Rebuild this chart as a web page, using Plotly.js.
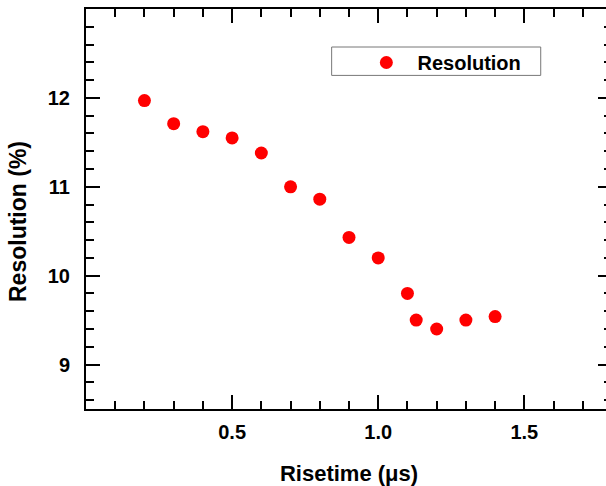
<!DOCTYPE html>
<html>
<head>
<meta charset="utf-8">
<script src="https://cdn.plot.ly/plotly-3.0.1.min.js"></script>
<style>
html, body { margin: 0; padding: 0; overflow: hidden; background: #fff; }
#chart { width: 620px; height: 486px; }
</style>
</head>
<body>
<div id="chart"></div>
<script>
const risetime = [0.2, 0.3, 0.4, 0.5, 0.6, 0.7, 0.8, 0.9, 1.0, 1.1, 1.13, 1.2, 1.3, 1.4];
const resolution = [11.97, 11.71, 11.62, 11.55, 11.38, 11.00, 10.86, 10.43, 10.20, 9.80, 9.50, 9.40, 9.50, 9.54];
const xTickVals = [0.5, 1.0, 1.5];
const xTickText = ['0.5', '1.0', '1.5'];
const yTickVals = [9, 10, 11, 12];
const yTickText = ['9', '10', '11', '12'];

const FONT = 'Liberation Sans, Arial, sans-serif';

const trace = {
  x: risetime,
  y: resolution,
  type: 'scatter',
  mode: 'markers',
  name: '\u00a0\u00a0Resolution',
  marker: { color: '#ff0000', size: 13 }
};

const axisCommon = {
  showline: true,
  linewidth: 2,
  linecolor: '#000',
  mirror: 'ticks',
  ticks: 'inside',
  ticklen: 14,
  tickwidth: 2,
  tickcolor: '#000',
  showgrid: false,
  zeroline: false,
  tickfont: { family: FONT, size: 20, color: '#000', weight: 'bold' }
};

const layout = {
  width: 620,
  height: 486,
  margin: { l: 86, r: 8, t: 9, b: 77 },
  paper_bgcolor: '#fff',
  plot_bgcolor: '#fff',
  showlegend: true,
  xaxis: Object.assign({}, axisCommon, {
    range: [0, 1.8],
    tickmode: 'array',
    tickvals: xTickVals,
    ticktext: xTickText,
    ticklabelstandoff: 4,
    minor: { ticks: 'inside', ticklen: 8, tickwidth: 2, tickcolor: '#000', dtick: 0.1, tick0: 0 },
    title: { text: 'Risetime (μs)', font: { family: FONT, size: 22, color: '#000', weight: 'bold' }, standoff: 25 }
  }),
  yaxis: Object.assign({}, axisCommon, {
    range: [8.5, 13],
    tickmode: 'array',
    tickvals: yTickVals,
    ticktext: yTickText,
    ticklabelstandoff: 10,
    minor: { ticks: 'inside', ticklen: 8, tickwidth: 2, tickcolor: '#000', dtick: 0.2, tick0: 0 }
  }),
  annotations: [{
    text: 'Resolution (%)',
    xref: 'paper', yref: 'paper',
    x: (18 - 86) / 526, y: 0.4675,
    xanchor: 'center', yanchor: 'middle',
    textangle: -90, showarrow: false,
    font: { family: FONT, size: 23, color: '#000', weight: 'bold' }
  }],
  legend: {
    x: 0.533, y: 0.915, xanchor: 'left', yanchor: 'top',
    bgcolor: 'rgba(0,0,0,0)',
    borderwidth: 0,
    font: { family: FONT, size: 20, color: '#000', weight: 'bold' }
  },
  shapes: [{
    type: 'rect', xref: 'paper', yref: 'paper',
    x0: 0.467, x1: 0.8645, y0: 0.834, y1: 0.905,
    line: { color: '#777', width: 1 }, fillcolor: 'rgba(0,0,0,0)'
  }]
};

Plotly.newPlot('chart', [trace], layout, { displayModeBar: false, staticPlot: true });
</script>
</body>
</html>
